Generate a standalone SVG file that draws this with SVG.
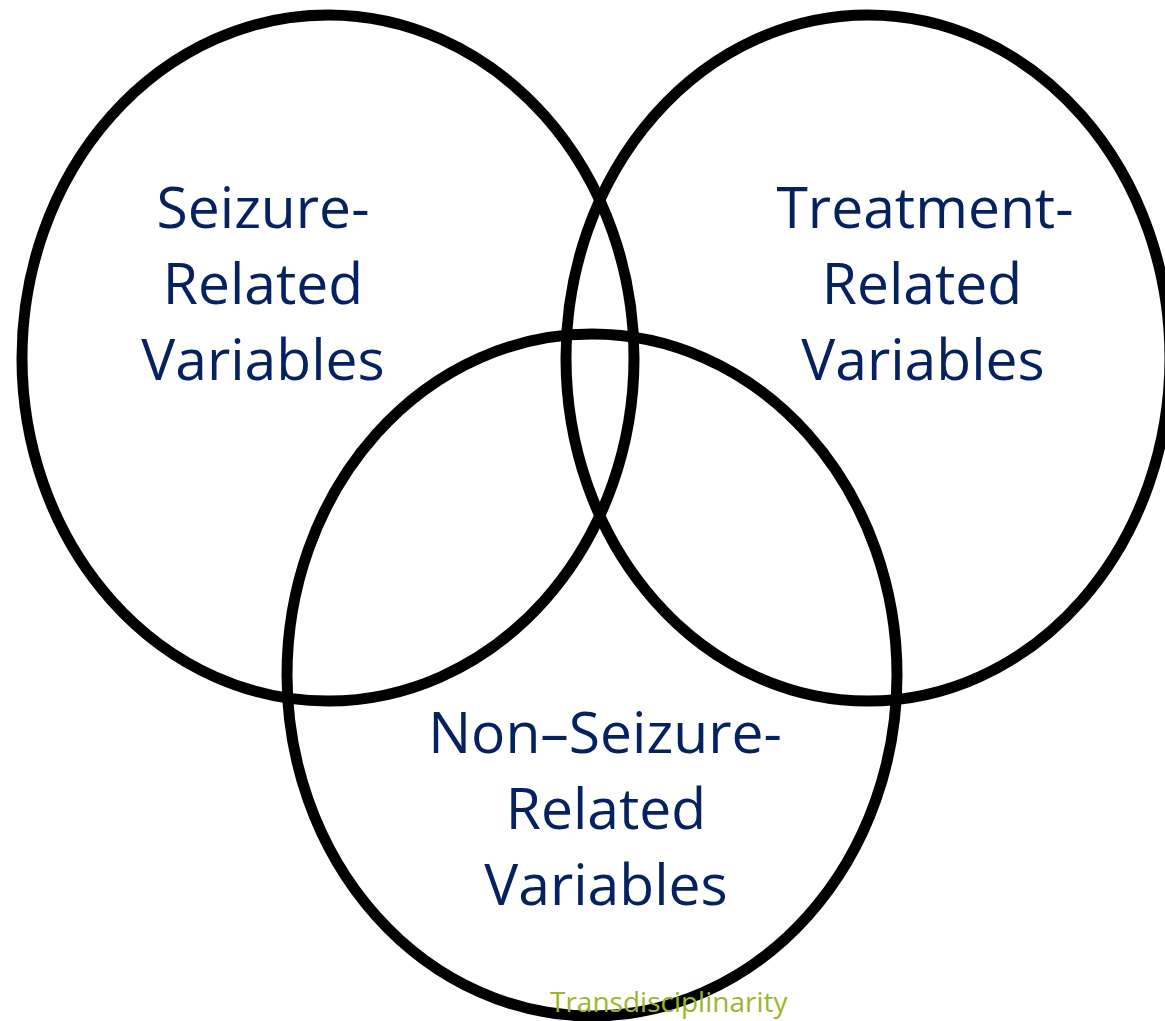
<svg xmlns="http://www.w3.org/2000/svg" width="1165" height="1021" viewBox="0 0 1165 1021">
<style>
.c{fill:none;stroke:#000;stroke-width:11}
.t{font-family:"Open Sans","Noto Sans",sans-serif;font-size:57px;fill:#06215f;text-anchor:middle}
.f{font-family:"Open Sans","Noto Sans",sans-serif;font-size:28px;fill:#9bb62c}
</style>
<rect width="1165" height="1021" fill="#fff"/>
<g id="connectors"></g>
<g id="seizure"><ellipse class="c" cx="328" cy="358" rx="306" ry="343"/>
<text class="t" x="263" y="228">Seizure-</text><text class="t" x="263" y="304">Related</text><text class="t" x="263" y="380">Variables</text></g>
<g id="treatment"><ellipse class="c" cx="868" cy="358" rx="302" ry="343"/>
<text class="t" x="925" y="228">Treatment-</text><text class="t" x="922" y="304">Related</text><text class="t" x="923" y="380">Variables</text></g>
<g id="nonseizure"><ellipse class="c" cx="592" cy="675" rx="305" ry="341"/>
<text class="t" x="605" y="753">Non–Seizure-</text><text class="t" x="606" y="829">Related</text><text class="t" x="606" y="905">Variables</text></g>
<g id="footer"><text class="f" x="550" y="1012">Transdisciplinarity</text></g>
</svg>
